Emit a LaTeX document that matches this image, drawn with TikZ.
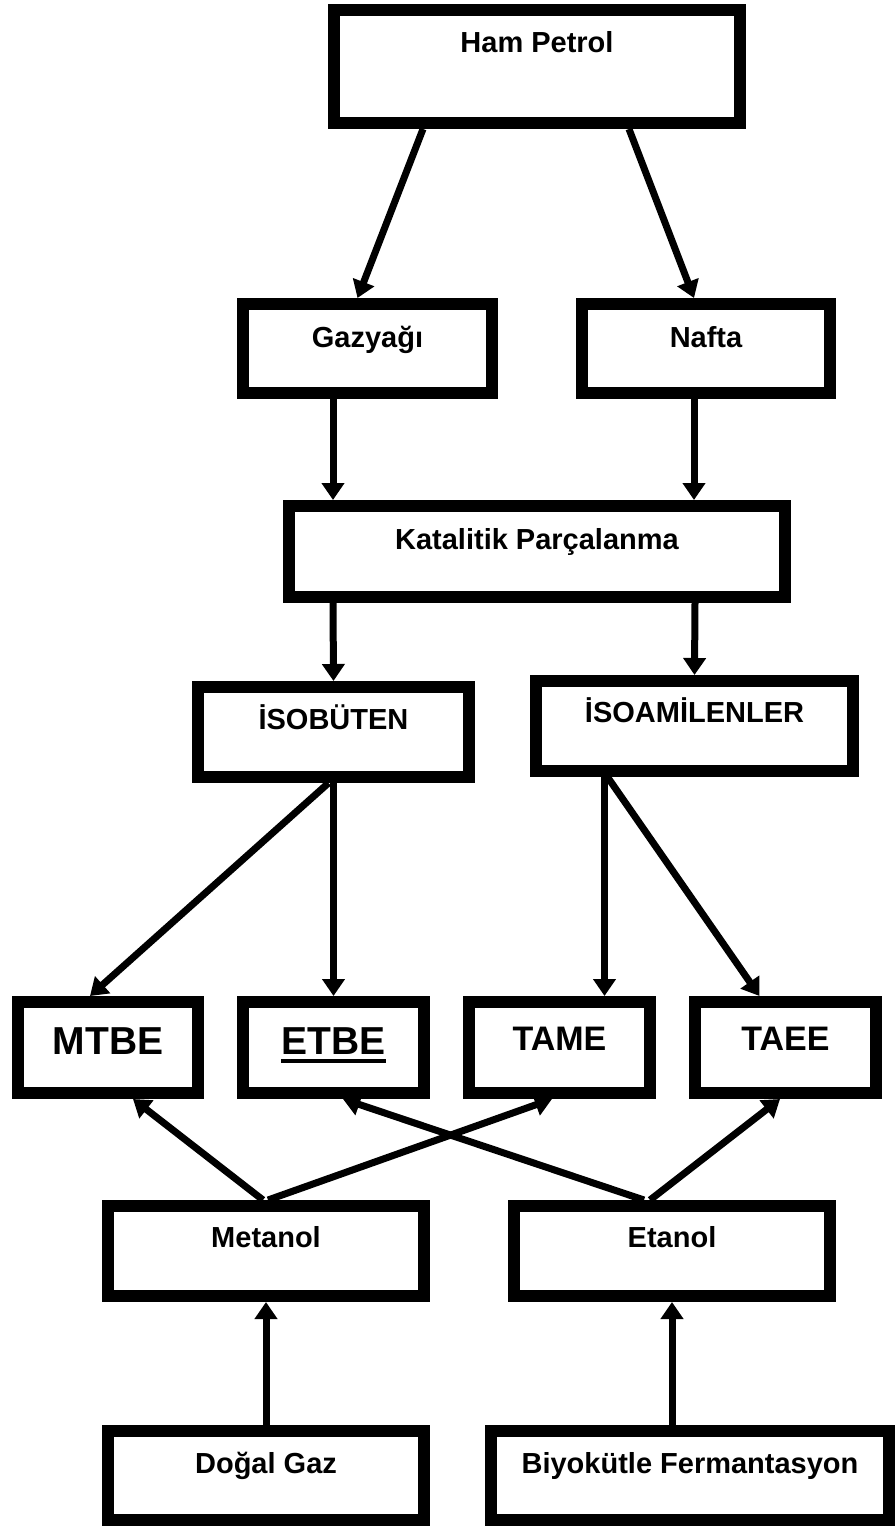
\documentclass[tikz,border=0pt]{standalone}
\usepackage{fontspec}
\setmainfont{Liberation Sans}
\usetikzlibrary{arrows.meta}
\newcommand{\kutuYazi}[1]{\fontsize{#1}{#1}\selectfont\bfseries}
\newcommand{\altCizgili}[1]{\setbox0\hbox{#1}\rlap{\rule[-8.5pt]{\wd0}{4pt}}\box0}

\begin{document}
\begin{tikzpicture}[x=1pt,y=-1pt,
  kutu/.style={draw=black, line width=12pt, inner sep=0pt, outer sep=6pt, anchor=base, font=\kutuYazi{29}},
  ok/.style={line width=7pt, -{Triangle[length=17pt,width=22pt]}}]
\useasboundingbox (0,0) rectangle (895,1526);
\node[kutu, minimum width=406pt, text height=42pt, text depth=71pt] (hampetrol) at (537,52) {Ham Petrol};
\node[kutu, minimum width=249pt, text height=43pt, text depth=46pt] (gazyagi) at (367.5,347) {Gazyağı};
\node[kutu, minimum width=248pt, text height=43pt, text depth=46pt] (nafta) at (706,347) {Nafta};
\node[kutu, minimum width=496pt, text height=43pt, text depth=48pt] (katalitik) at (537,549) {Katalitik Parçalanma};
\node[kutu, minimum width=271pt, text height=42pt, text depth=48pt] (isobuten) at (333.5,729) {İSOBÜTEN};
\node[kutu, minimum width=317pt, text height=41pt, text depth=49pt] (isoamilen) at (694.5,722) {İSOAMİLENLER};
\node[kutu, font=\kutuYazi{39}, minimum width=180pt, text height=52pt, text depth=39pt] (mtbe) at (108,1054) {MTBE};
\node[kutu, font=\kutuYazi{39}, minimum width=181pt, text height=52pt, text depth=39pt] (etbe) at (333.5,1054) {\altCizgili{ETBE}};
\node[kutu, font=\kutuYazi{34}, minimum width=181pt, text height=48pt, text depth=43pt] (tame) at (559.5,1050) {TAME};
\node[kutu, font=\kutuYazi{34}, minimum width=181pt, text height=48pt, text depth=43pt] (taee) at (785.5,1050) {TAEE};
\node[kutu, minimum width=316pt, text height=41pt, text depth=49pt] (metanol) at (266,1247) {Metanol};
\node[kutu, minimum width=316pt, text height=41pt, text depth=49pt] (etanol) at (672,1247) {Etanol};
\node[kutu, minimum width=316pt, text height=42pt, text depth=47pt] (dogalgaz) at (266,1473) {Doğal Gaz};
\node[kutu, minimum width=398pt, text height=42pt, text depth=47pt] (biyokutle) at (690,1473) {Biyokütle Fermantasyon};
\draw[ok] ([xshift=-114pt]hampetrol.south) -- ([xshift=-10pt]gazyagi.north);
\draw[ok] ([xshift=92pt]hampetrol.south) -- ([xshift=-12pt]nafta.north);
\draw[ok] ([xshift=-34.5pt]gazyagi.south) -- ([xshift=-204pt]katalitik.north);
\draw[ok] ([xshift=-12pt]nafta.south) -- ([xshift=157pt]katalitik.north);
\draw[ok] ([xshift=-204pt]katalitik.south) -- (isobuten.north);
\draw[ok] ([xshift=158pt]katalitik.south) -- (isoamilen.north);
\draw[ok] ([xshift=-5pt]isobuten.south) -- ([xshift=-18pt]mtbe.north);
\draw[ok] (isobuten.south) -- (etbe.north);
\draw[ok] ([xshift=-90pt]isoamilen.south) -- ([xshift=45pt]tame.north);
\draw[ok] ([xshift=-87pt]isoamilen.south) -- ([xshift=-26pt]taee.north);
\draw[ok] ([xshift=-3pt]metanol.north) -- ([xshift=25pt]mtbe.south);
\draw[ok] ([xshift=2pt]metanol.north) -- ([xshift=-7.5pt]tame.south);
\draw[ok] ([xshift=-28pt]etanol.north) -- ([xshift=9.5pt]etbe.south);
\draw[ok] ([xshift=-22pt]etanol.north) -- ([xshift=-5.5pt]taee.south);
\draw[ok] (dogalgaz.north) -- (metanol.south);
\draw[ok] ([xshift=-18pt]biyokutle.north) -- (etanol.south);
\end{tikzpicture}
\end{document}
